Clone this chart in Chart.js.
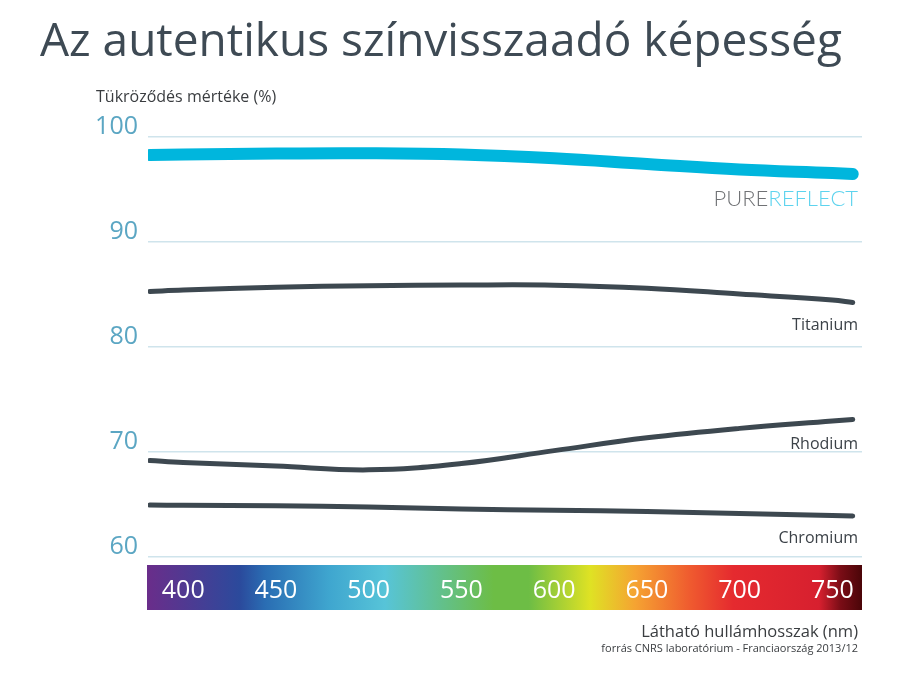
<!DOCTYPE html>
<html lang="hu">
<head>
<meta charset="utf-8">
<title>Az autentikus színvisszaadó képesség</title>
<script src="https://cdn.jsdelivr.net/npm/chart.js@4.4.1/dist/chart.umd.min.js"></script>
<style>
  html, body { margin: 0; padding: 0; background: #fff; }
  #wrap { position: relative; width: 920px; height: 673px; }
</style>
</head>
<body>
<div id="wrap"><canvas id="reflectChart"></canvas></div>
<script>
const wavelengths = [382, 400, 450, 500, 550, 600, 650, 700, 750, 761];
// Reflectance (%) per coating
const pureReflect = [98.29, 98.33, 98.43, 98.45, 98.33, 97.97, 97.43, 96.9, 96.57, 96.48];
const titanium = [85.29, 85.43, 85.69, 85.84, 85.9, 85.89, 85.6, 85.05, 84.48, 84.24];
const rhodium = [69.19, 69.0, 68.67, 68.3, 68.9, 70.13, 71.35, 72.25, 72.95, 73.1];
const chromium = [64.95, 64.93, 64.88, 64.76, 64.57, 64.45, 64.33, 64.14, 63.95, 63.9];
// Axis ticks
const xTicks = [400, 450, 500, 550, 600, 650, 700, 750];
const yTicks = [60, 70, 80, 90, 100];

const FONT = "'Open Sans', 'DejaVu Sans', sans-serif";
const darkLine = '#3d4850';

function toPoints(values) {
  return values.map((v, i) => ({ x: wavelengths[i], y: v }));
}

// spectrum strip behind the x tick labels
const spectrumBar = {
  id: 'spectrumBar',
  beforeDraw(chart) {
    const { ctx, chartArea } = chart;
    const x0 = chartArea.left - 1, x1 = chartArea.right;
    const top = chartArea.bottom + 8, h = 45;
    const g = ctx.createLinearGradient(x0, 0, x1, 0);
    g.addColorStop(0.00, '#6a2d8a');
    g.addColorStop(0.13, '#2b4a9c');
    g.addColorStop(0.165, '#2a6db3');
    g.addColorStop(0.255, '#3fa6cf');
    g.addColorStop(0.333, '#57c4d8');
    g.addColorStop(0.485, '#6dbd45');
    g.addColorStop(0.534, '#6dbd45');
    g.addColorStop(0.62, '#dfe224');
    g.addColorStop(0.683, '#f5a332');
    g.addColorStop(0.76, '#ef5a2f');
    g.addColorStop(0.82, '#e52a2f');
    g.addColorStop(0.94, '#d7202f');
    g.addColorStop(0.97, '#7a0d16');
    g.addColorStop(1.00, '#4a0508');
    ctx.save();
    ctx.fillStyle = g;
    ctx.fillRect(x0, top, x1 - x0, h);
    ctx.restore();
  }
};

// title, axis captions and series names
const textLayer = {
  id: 'textLayer',
  afterDraw(chart) {
    const { ctx, chartArea } = chart;
    const right = chartArea.right - 4;
    ctx.save();
    ctx.textBaseline = 'alphabetic';

    ctx.fillStyle = '#3e4a54';
    ctx.font = '46px ' + FONT;
    ctx.textAlign = 'left';
    ctx.fillText('Az autentikus színvisszaadó képesség', 40, 56);

    ctx.fillStyle = '#3a3d40';
    ctx.font = '16px ' + FONT;
    ctx.fillText('Tükröződés mértéke (%)', 96, 102);

    // PUREREFLECT logo-like label
    ctx.font = '300 22px Lato, sans-serif';
    const w2 = ctx.measureText('REFLECT').width;
    ctx.textAlign = 'right';
    ctx.fillStyle = '#5dd3ee';
    ctx.fillText('REFLECT', right, 206);
    ctx.fillStyle = '#707275';
    ctx.fillText('PURE', right - w2, 206);

    ctx.fillStyle = '#3c4248';
    ctx.font = '16px ' + FONT;
    ctx.fillText('Titanium', right, 330);
    ctx.fillText('Rhodium', right, 449);
    ctx.fillText('Chromium', right, 543);

    ctx.fillStyle = '#3a3d40';
    ctx.font = '16.5px ' + FONT;
    ctx.fillText('Látható hullámhosszak (nm)', right, 637);
    ctx.font = '11px ' + FONT;
    ctx.fillText('forrás CNRS laboratórium - Franciaország 2013/12', right, 652);
    ctx.restore();
  }
};

const ctx = document.getElementById('reflectChart').getContext('2d');
new Chart(ctx, {
  type: 'line',
  data: {
    datasets: [
      { label: 'PureReflect', data: toPoints(pureReflect), borderColor: '#00b6dd', borderWidth: 12 },
      { label: 'Titanium', data: toPoints(titanium), borderColor: darkLine, borderWidth: 5 },
      { label: 'Rhodium', data: toPoints(rhodium), borderColor: darkLine, borderWidth: 5 },
      { label: 'Chromium', data: toPoints(chromium), borderColor: darkLine, borderWidth: 5 }
    ]
  },
  options: {
    responsive: true,
    maintainAspectRatio: false,
    animation: false,
    layout: { padding: { top: 137, right: 58, bottom: 0, left: 0 } },
    elements: {
      point: { radius: 0 },
      line: { tension: 0.4, borderCapStyle: 'round', fill: false }
    },
    plugins: {
      legend: { display: false },
      tooltip: { enabled: false }
    },
    scales: {
      x: {
        type: 'linear',
        min: 381,
        max: 766,
        afterBuildTicks: (scale) => { scale.ticks = xTicks.map(v => ({ value: v })); },
        afterFit: (scale) => { scale.height = 116; },
        grid: { display: false, drawTicks: false },
        border: { display: false },
        ticks: { color: '#ffffff', font: { family: FONT, size: 25 }, padding: 19, maxRotation: 0 }
      },
      y: {
        min: 60,
        max: 100,
        afterBuildTicks: (scale) => { scale.ticks = yTicks.map(v => ({ value: v })); },
        afterFit: (scale) => { scale.width = 148; },
        grid: { color: '#cfe4ec', lineWidth: 1.5, drawTicks: false },
        border: { display: false },
        ticks: { color: '#5ba6c3', font: { family: FONT, size: 25 }, padding: 10, labelOffset: -10 }
      }
    }
  },
  plugins: [spectrumBar, textLayer]
});
</script>
</body>
</html>
